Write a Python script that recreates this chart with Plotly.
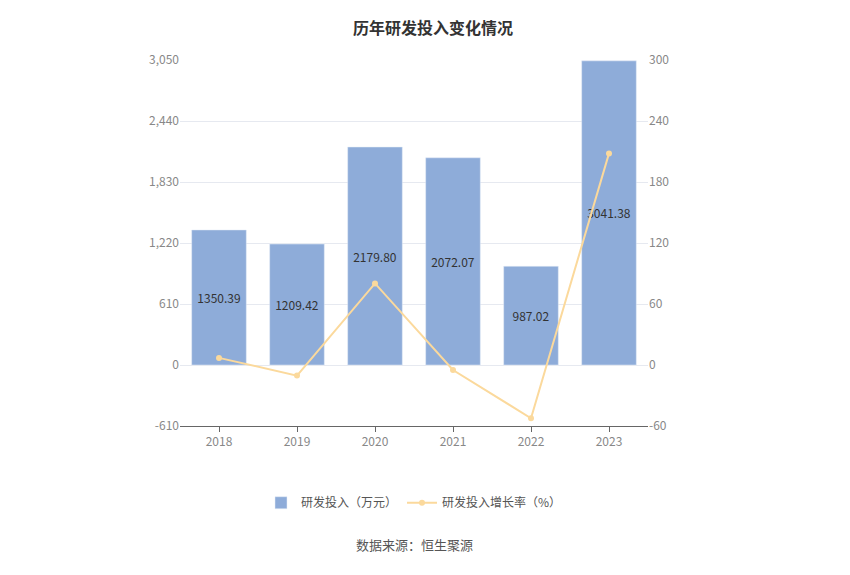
import plotly.graph_objects as go

years = ["2018", "2019", "2020", "2021", "2022", "2023"]
invest = [1350.39, 1209.42, 2179.80, 2072.07, 987.02, 3041.38]
growth = [7.0, -10.44, 80.23, -4.94, -52.37, 208.14]
left_ticks = [-610, 0, 610, 1220, 1830, 2440, 3050]
left_labels = ["-610", "0", "610", "1,220", "1,830", "2,440", "3,050"]
right_ticks = [-60, 0, 60, 120, 180, 240, 300]
right_labels = ["-60", "0", "60", "120", "180", "240", "300"]

fig = go.Figure()
fig.add_trace(go.Bar(x=years, y=invest, name="研发投入（万元）", marker_color="#8eacd9",
                     width=0.7, text=[f"{v:.2f}" for v in invest], textposition="inside",
                     insidetextanchor="middle",
                     textfont=dict(color="#333", size=12)))
fig.add_trace(go.Scatter(x=years, y=growth, name="研发投入增长率（%）", yaxis="y2",
                         mode="lines+markers", line=dict(color="#fbd99c", width=2),
                         marker=dict(color="#fbd99c", size=6)))
fig.update_layout(
    width=850, height=575, plot_bgcolor="white", paper_bgcolor="white",
    font=dict(family="Noto Sans CJK SC", color="#888", size=12),
    title=dict(text="<b>历年研发投入变化情况</b>", x=0.5, y=0.975, font=dict(size=16, color="#333")),
    margin=dict(l=172, r=210, t=52, b=157),
    xaxis=dict(showline=True, linecolor="#666", ticks="outside", tickcolor="#666"),
    yaxis=dict(range=[-610, 3050], tickvals=left_ticks, ticktext=left_labels,
               gridcolor="#e6e9f0", zeroline=False),
    yaxis2=dict(range=[-60, 300], tickvals=right_ticks, ticktext=right_labels,
                overlaying="y", side="right", showgrid=False, zeroline=False),
    legend=dict(orientation="h", x=0.5, xanchor="center", y=-0.17, font=dict(color="#555")),
    bargap=0.3,
)
fig.add_annotation(text="数据来源：恒生聚源", x=0.5, xref="paper", y=-0.355, yref="paper",
                   showarrow=False, font=dict(size=13, color="#555"))
fig.write_html("out.html")
